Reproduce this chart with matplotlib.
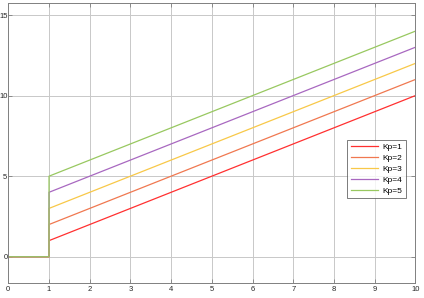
import matplotlib
matplotlib.use("Agg")
import matplotlib.pyplot as plt

plt.rcParams["font.family"] = ["Liberation Sans", "DejaVu Sans"]

t = [0, 1, 1, 10]
kp_values = [1, 2, 3, 4, 5]
series = {
    "Kp=1": [0, 0, 1, 10],
    "Kp=2": [0, 0, 2, 11],
    "Kp=3": [0, 0, 3, 12],
    "Kp=4": [0, 0, 4, 13],
    "Kp=5": [0, 0, 5, 14],
}
colors = ["#ff3030", "#f07850", "#f8c848", "#a868c0", "#98c860"]
xticks = list(range(0, 11))
yticks = [0, 5, 10, 15]

fig = plt.figure(figsize=(4.24, 2.98), dpi=100)
ax = fig.add_axes([0.0196, 0.0503, 0.96, 0.9387])
for (name, vals), c in zip(series.items(), colors):
    ax.plot(t, vals, color=c, lw=0.9, label=name)

ax.set_xlim(0, 10)
ax.set_ylim(-1.63, 15.73)
ax.set_xticks(xticks)
ax.set_yticks(yticks)
ax.grid(True, color="#c8c8c8", lw=0.7)
ax.set_axisbelow(True)
ax.tick_params(direction="in", length=3, width=0.6, colors="#808080",
               labelcolor="#262626", labelsize=5.5, top=True, right=True)
ax.tick_params(axis="y", pad=0.6)
ax.tick_params(axis="x", pad=2)
for s in ax.spines.values():
    s.set_color("#808080")
    s.set_linewidth(0.7)

leg = ax.legend(loc="upper left", bbox_to_anchor=(0.8325, 0.512), fontsize=6,
                frameon=True, fancybox=False, edgecolor="#404040",
                borderpad=0.45, labelspacing=0.36, handlelength=3.3,
                handletextpad=0.5, borderaxespad=0)
leg.get_frame().set_linewidth(0.6)

fig.savefig("out.png", dpi=100)
